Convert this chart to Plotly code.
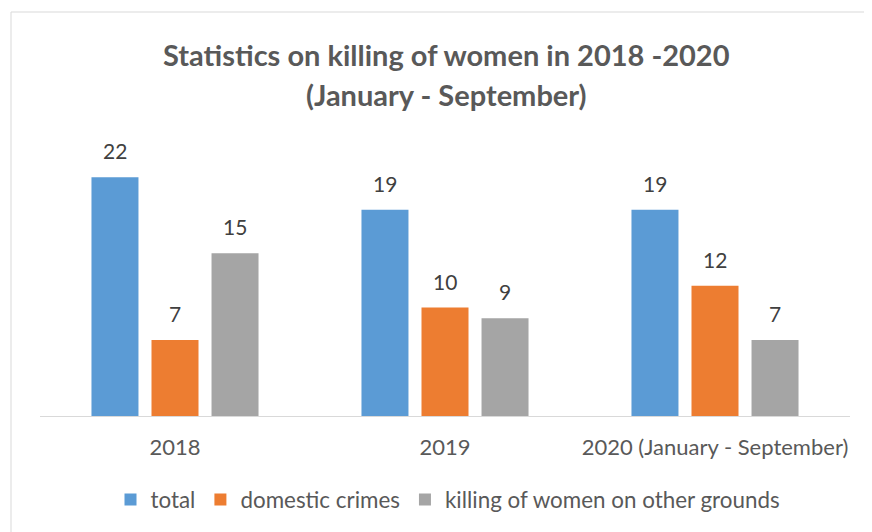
import plotly.graph_objects as go

categories = ["2018", "2019", "2020 (January - September)"]
series_names = ["total", "domestic crimes", "killing of women on other grounds"]
total = [22, 19, 19]
domestic = [7, 10, 12]
other = [15, 9, 7]
colors = ["#5B9BD5", "#ED7D31", "#A5A5A5"]

FONT = "Lato, Open Sans, sans-serif"
W, H = 872, 532
OFF = 8  # page body margin offset
ml, mr, mt, mb = 40 - OFF, W - (850 - OFF), 100 - OFF, H - (416 - OFF)
plot_w = W - ml - mr
plot_h = H - mt - mb
px_per_unit = 10.85
ymax = plot_h / px_per_unit
base_y = H - mb


def py(y_ref):
    """reference pixel row -> paper y"""
    return (base_y - (y_ref - OFF)) / plot_h


def px(x_ref):
    return ((x_ref - OFF) - ml) / plot_w


fig = go.Figure()
for name, vals, col in zip(series_names, [total, domestic, other], colors):
    fig.add_trace(go.Bar(x=categories, y=vals, name=name, marker_color=col,
                         marker_line_width=0, hoverinfo="skip"))

# data labels (x given as category index)
slot = plot_w / len(categories) * (1 - 0.333) / 3
for i, vals in enumerate([total, domestic, other]):
    for j, v in enumerate(vals):
        fig.add_annotation(x=j, y=v, text=str(v), showarrow=False,
                           xshift=(i - 1) * slot, yanchor="bottom", yshift=12,
                           font=dict(family=FONT, size=21, color="#404040"))

# title
for txt, yr in [("<b>Statistics on killing of women in 2018 -2020</b>", 55),
                ("<b>(January - September)</b>", 95)]:
    fig.add_annotation(xref="paper", yref="paper", x=px(446), y=py(yr),
                       text=txt, showarrow=False, yanchor="middle", xanchor="center",
                       font=dict(family=FONT, size=29, color="#595959"))

# outer chart border
fig.add_shape(type="rect", xref="paper", yref="paper",
              x0=px(11), x1=px(W + 20), y0=py(H + 20), y1=py(12),
              line=dict(color="#D9D9D9", width=1), fillcolor="rgba(0,0,0,0)",
              layer="below")

fig.update_layout(
    width=W, height=H,
    margin=dict(l=ml, r=mr, t=mt, b=mb),
    paper_bgcolor="white", plot_bgcolor="white",
    barmode="group", bargap=0.333, bargroupgap=0.217,
    font=dict(family=FONT, size=21, color="#595959"),
    showlegend=True,
    legend=dict(orientation="h", x=px(448), xanchor="center", y=py(500),
                yanchor="middle", font=dict(family=FONT, size=22.4, color="#595959"),
                itemclick=False),
    xaxis=dict(type="category", showline=True, linecolor="#D9D9D9", linewidth=1,
               ticks="", ticklabelstandoff=12,
               tickfont=dict(family=FONT, size=22, color="#595959"),
               showgrid=False),
    yaxis=dict(range=[0, ymax], visible=False, showgrid=False, zeroline=False),
)

fig.write_html("out.html")
